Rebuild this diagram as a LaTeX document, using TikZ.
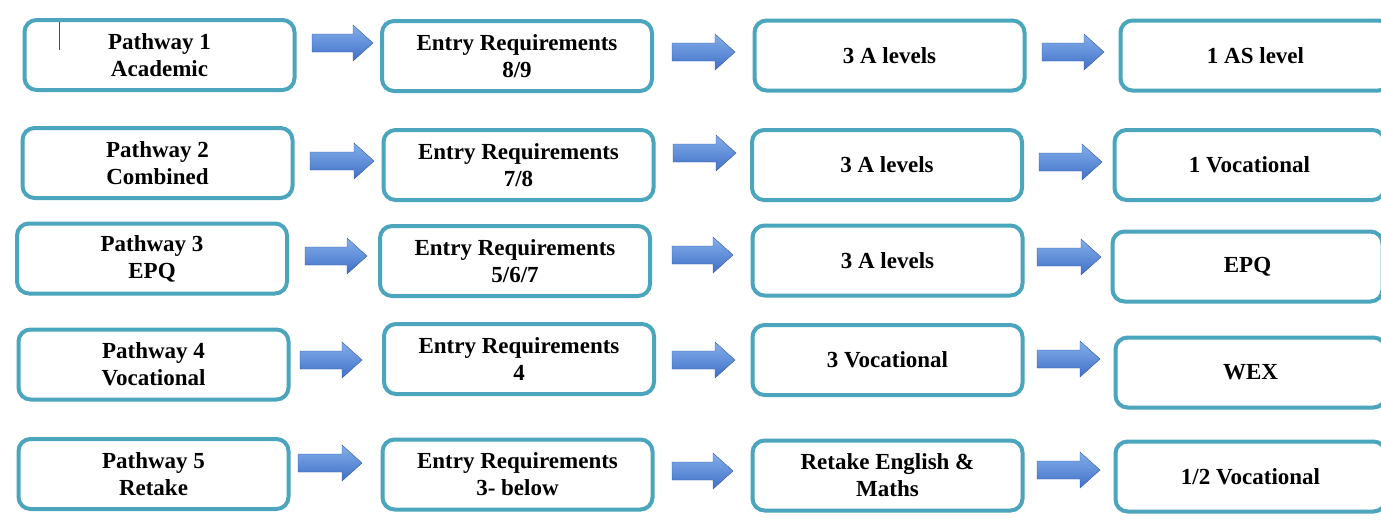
\documentclass[tikz,border=0pt]{standalone}
\usepackage{fontspec}
\setmainfont{Liberation Serif}
\usepackage{tikz}
\usepackage{xcolor}
\definecolor{boxline}{RGB}{75,165,188}
\definecolor{arrowtop}{RGB}{132,175,234}
\definecolor{arrowbot}{RGB}{64,112,200}
\tikzset{
    path-box/.style = {draw=boxline, fill=white, line width=2pt, rectangle, rounded corners=6pt, minimum width=135pt, minimum height=35pt, inner sep=2pt, align=center, font=\bfseries\fontsize{11.5}{13.5}\selectfont},
    block-arrow/.style = {top color=arrowtop, bottom color=arrowbot, draw=arrowbot!80!black, line width=0.2pt},
}
% block arrow: left x, right x, middle y (in pixels)
\newcommand{\blockarrow}[3]{%
  \path[block-arrow] (#1,#3-9) -- (#2-20,#3-9) -- (#2-20,#3-18) -- (#2,#3)
    -- (#2-20,#3+18) -- (#2-20,#3+9) -- (#1,#3+9) -- cycle;}

\begin{document}
\begin{tikzpicture}[x=0.5pt,y=-0.5pt]
\useasboundingbox (0,0) rectangle (1381,520);
\clip (0,0) rectangle (1381,520);

% pathway 1
\node[path-box] (path1) at (159.5,55) {Pathway 1\\Academic};
\node[path-box] (entry1) at (517,56) {Entry Requirements\\8/9};
\node[path-box] (core1) at (889.5,55.5) {3 A levels};
\node[path-box] (extra1) at (1255.5,55.5) {1 AS level};
\draw[gray!60!black, line width=0.5pt] (59,22) -- (59,50);

% pathway 2
\node[path-box] (path2) at (157.5,163) {Pathway 2\\Combined};
\node[path-box] (entry2) at (518.5,165) {Entry Requirements\\7/8};
\node[path-box] (core2) at (887,165) {3 A levels};
\node[path-box] (extra2) at (1249.5,165) {1 Vocational};

% pathway 3
\node[path-box] (path3) at (152,258.5) {Pathway 3\\EPQ};
\node[path-box] (entry3) at (515,261) {Entry Requirements\\5/6/7};
\node[path-box] (core3) at (887.5,260.5) {3 A levels};
\node[path-box] (extra3) at (1247.5,266.5) {EPQ};

% pathway 4
\node[path-box] (path4) at (153.5,364.5) {Pathway 4\\Vocational};
\node[path-box] (entry4) at (519,359) {Entry Requirements\\4};
\node[path-box] (core4) at (887.5,360) {3 Vocational};
\node[path-box] (extra4) at (1250.5,372.5) {WEX};

% pathway 5
\node[path-box] (path5) at (153.5,474) {Pathway 5\\Retake};
\node[path-box] (entry5) at (517.5,474.5) {Entry Requirements\\3- below};
\node[path-box] (core5) at (887.5,475.5) {Retake English \&\\Maths};
\node[path-box] (extra5) at (1250.5,476.5) {1/2 Vocational};

% arrows
\blockarrow{312}{373}{43}
\blockarrow{672}{735}{52}
\blockarrow{1042}{1104}{52}
\blockarrow{310}{374}{161}
\blockarrow{673}{736}{153}
\blockarrow{1039}{1102}{162}
\blockarrow{305}{367}{256}
\blockarrow{672}{733}{255}
\blockarrow{1037}{1101}{257}
\blockarrow{300}{362}{360}
\blockarrow{672}{735}{360}
\blockarrow{1037}{1100}{359}
\blockarrow{298}{362}{463}
\blockarrow{672}{733}{471}
\blockarrow{1037}{1100}{470}
\end{tikzpicture}
\end{document}
